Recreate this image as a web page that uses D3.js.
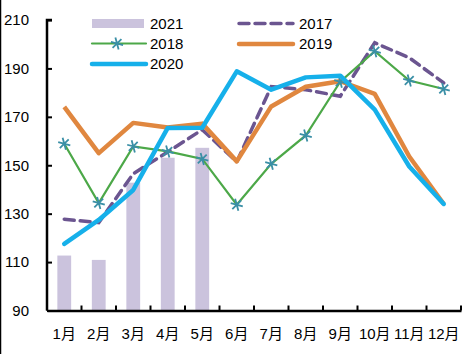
<!DOCTYPE html>
<html>
<head>
<meta charset="utf-8">
<script src="https://cdn.jsdelivr.net/npm/d3@7"></script>
<style>
  body { margin: 0; background: #fff; }
  svg { display: block; font-family: "Liberation Sans", "Noto Sans CJK SC", sans-serif; }
</style>
</head>
<body>
<svg width="473" height="354"></svg>
<script>
const months = ['1月', '2月', '3月', '4月', '5月', '6月', '7月', '8月', '9月', '10月', '11月', '12月'];
const yTicks = [90, 110, 130, 150, 170, 190, 210];

const v2021 = [112.7, 110.9, 142.8, 153.1, 157.2];
const v2017 = [127.7, 126.3, 146.5, 155.5, 164.7, 151.4, 182.5, 181.2, 178.5, 200.6, 194.4, 184.0];
const v2018 = [158.9, 134.4, 157.8, 155.7, 152.6, 133.7, 150.6, 162.3, 184.5, 197.1, 185.0, 181.5];
const v2019 = [174.1, 155.0, 167.5, 165.6, 167.2, 151.6, 174.3, 182.4, 184.7, 179.5, 153.6, 134.0];
const v2020 = [117.5, 127.4, 139.8, 165.4, 165.5, 188.8, 181.2, 186.3, 187.0, 173.0, 149.5, 134.0];

const svg = d3.select('svg');
const margin = { left: 47, right: 12, top: 20, bottom: 43.5 };
const width = 473 - margin.left - margin.right;
const height = 354 - margin.top - margin.bottom;

// outer border on the left edge
svg.append('line')
    .attr('x1', 0.5).attr('x2', 0.5)
    .attr('y1', 0).attr('y2', 354)
    .attr('stroke', '#000')
    .attr('stroke-width', 1.5);

const g = svg.append('g')
    .attr('transform', `translate(${margin.left}, ${margin.top})`);

const x = d3.scaleBand()
    .domain(months)
    .range([0, width])
    .paddingInner(0.6)
    .paddingOuter(0.3);

const xc = m => x(m) + x.bandwidth() / 2;

const y = d3.scaleLinear()
    .domain([90, 210])
    .range([height, 0]);

// bars for 2021
g.selectAll('rect.bar')
    .data(v2021)
    .enter()
    .append('rect')
    .attr('class', 'bar')
    .attr('x', (d, i) => x(months[i]))
    .attr('y', d => y(d))
    .attr('width', x.bandwidth())
    .attr('height', d => height - y(d))
    .attr('fill', '#cbc3dd');

// axes
const xAxis = g.append('g')
    .attr('transform', `translate(0, ${height})`)
    .call(d3.axisBottom(x).tickSize(0).tickPadding(18));
xAxis.select('.domain').attr('stroke', '#000').attr('stroke-width', 2.5);
xAxis.selectAll('text')
    .attr('font-size', '15px')
    .attr('fill', '#000')
    .attr('font-family', '"Liberation Sans", "Noto Sans CJK SC", sans-serif');

// tick marks between the months
const bounds = d3.range(months.length + 1).map(i => i * width / months.length);
g.selectAll('line.xtick')
    .data(bounds)
    .enter()
    .append('line')
    .attr('x1', d => d)
    .attr('x2', d => d)
    .attr('y1', height)
    .attr('y2', height - 5)
    .attr('stroke', '#000')
    .attr('stroke-width', 2);

const yAxis = g.append('g')
    .call(d3.axisLeft(y).tickValues(yTicks).tickSize(5).tickPadding(13));
yAxis.select('.domain').attr('stroke', '#000').attr('stroke-width', 2.5)
    .attr('d', `M5,0H0V${height}`);
yAxis.selectAll('.tick line').attr('stroke', '#000').attr('stroke-width', 2)
    .attr('x1', 0).attr('x2', 5);
yAxis.selectAll('text')
    .attr('font-size', '15px')
    .attr('fill', '#000')
    .attr('font-family', '"Liberation Sans", sans-serif');

const line = d3.line()
    .x((d, i) => xc(months[i]))
    .y(d => y(d));

g.append('path')
    .datum(v2017)
    .attr('d', line)
    .attr('fill', 'none')
    .attr('stroke', '#6b5590')
    .attr('stroke-width', 3.5)
    .attr('stroke-dasharray', '10,6')
    .attr('stroke-linecap', 'round');

g.append('path')
    .datum(v2019)
    .attr('d', line)
    .attr('fill', 'none')
    .attr('stroke', '#e0873f')
    .attr('stroke-width', 4.5)
    .attr('stroke-linejoin', 'round');

g.append('path')
    .datum(v2018)
    .attr('d', line)
    .attr('fill', 'none')
    .attr('stroke', '#4ca848')
    .attr('stroke-width', 2.2);

const star = d3.symbol().type(d3.symbolAsterisk).size(110);
g.selectAll('path.m18')
    .data(v2018)
    .enter()
    .append('path')
    .attr('class', 'm18')
    .attr('transform', (d, i) => `translate(${xc(months[i])}, ${y(d)}) rotate(45)`)
    .attr('d', star)
    .attr('fill', 'none')
    .attr('stroke', '#3a8fa6')
    .attr('stroke-width', 1.8);

g.append('path')
    .datum(v2020)
    .attr('d', line)
    .attr('fill', 'none')
    .attr('stroke', '#16b0ea')
    .attr('stroke-width', 4.5)
    .attr('stroke-linejoin', 'round')
    .attr('stroke-linecap', 'round');

// legend
const legend = svg.append('g');
legend.append('rect')
    .attr('x', 92).attr('y', 19).attr('width', 52).attr('height', 9)
    .attr('fill', '#cbc3dd');

function legLine(x0, yy, color, w, dash) {
    const l = legend.append('line')
        .attr('x1', x0).attr('x2', x0 + 54)
        .attr('y1', yy).attr('y2', yy)
        .attr('stroke', color)
        .attr('stroke-width', w)
        .attr('stroke-linecap', 'round');
    if (dash) l.attr('stroke-dasharray', dash);
    return l;
}
legLine(239, 23.5, '#6b5590', 3.5, '10,6');
legLine(92, 43.5, '#4ca848', 2.2);
legend.append('path')
    .attr('transform', 'translate(117, 43.5) rotate(45)')
    .attr('d', star)
    .attr('fill', 'none')
    .attr('stroke', '#3a8fa6')
    .attr('stroke-width', 1.8);
legLine(239, 44, '#e0873f', 4.5);
legLine(92, 64, '#16b0ea', 4.5);

const legText = [
    { t: '2021', x: 150, y: 29 },
    { t: '2017', x: 299, y: 29 },
    { t: '2018', x: 150, y: 49 },
    { t: '2019', x: 299, y: 49 },
    { t: '2020', x: 150, y: 69 }
];
legend.selectAll('text')
    .data(legText)
    .enter()
    .append('text')
    .attr('x', d => d.x)
    .attr('y', d => d.y)
    .attr('font-size', '15px')
    .attr('fill', '#000')
    .text(d => d.t);
</script>
</body>
</html>
